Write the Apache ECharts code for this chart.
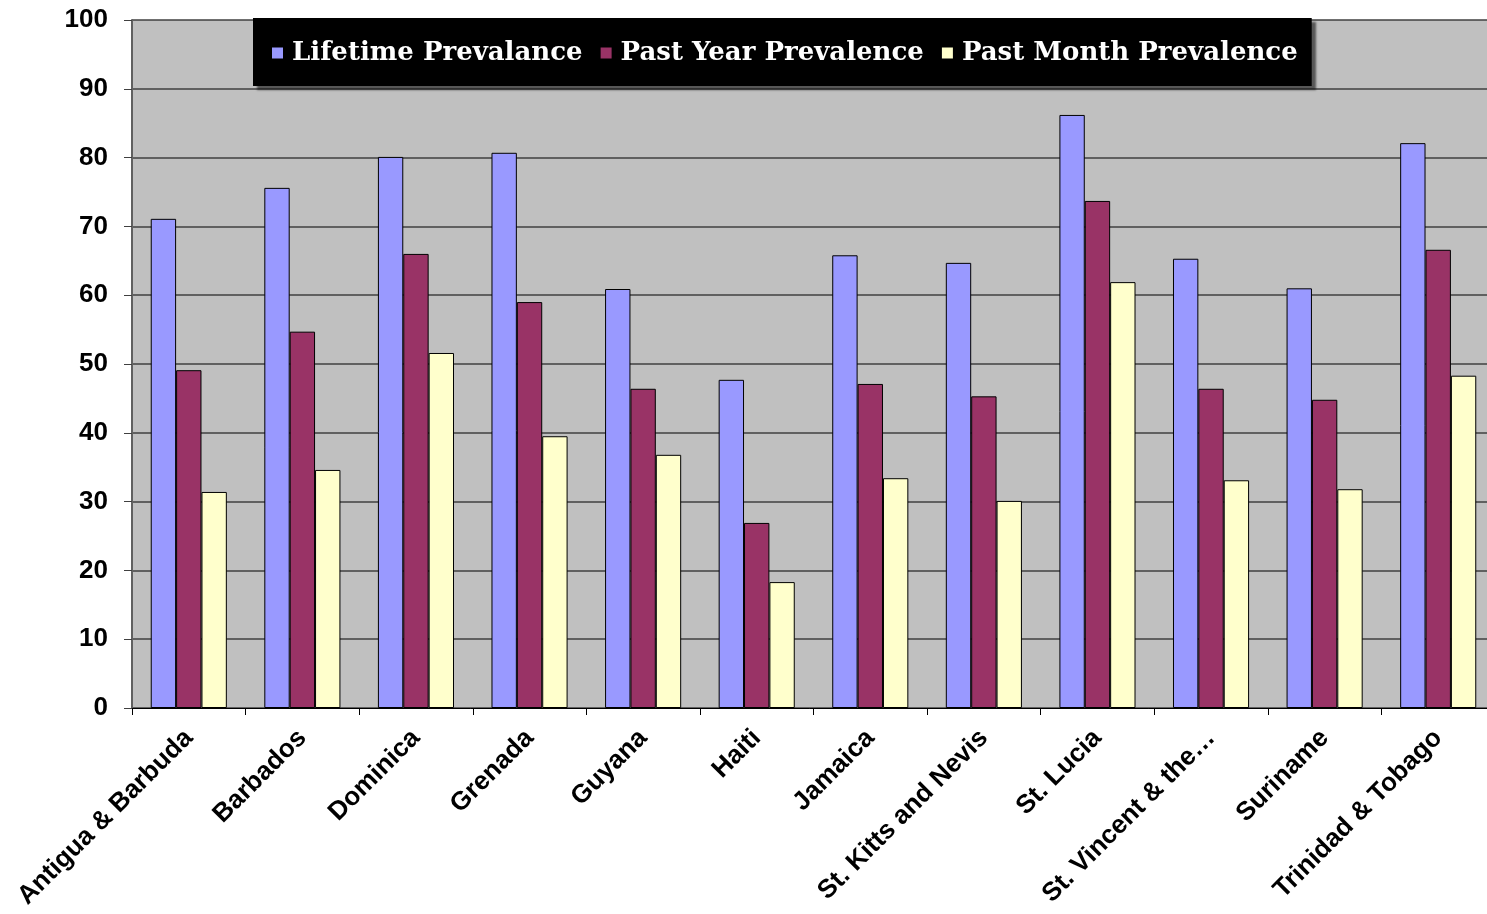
<!DOCTYPE html>
<html><head><meta charset="utf-8">
<script src="https://cdn.jsdelivr.net/npm/echarts@6/dist/echarts.min.js"></script>
<style>html,body{margin:0;padding:0;background:#fff;}#c{width:1487px;height:914px;}</style>
</head><body><div id="c"></div>
<script>
var categories = ["Antigua & Barbuda","Barbados","Dominica","Grenada","Guyana","Haiti","Jamaica","St. Kitts and Nevis","St. Lucia","St. Vincent & the…","Suriname","Trinidad & Tobago"];
var lifetime = [71.1,75.6,80.1,80.7,60.9,47.7,65.8,64.7,86.2,65.3,61.0,82.1];
var pastYear = [49.1,54.7,66.0,59.0,46.4,26.9,47.1,45.3,73.7,46.4,44.8,66.6];
var pastMonth = [31.4,34.6,51.6,39.5,36.8,18.3,33.4,30.1,61.9,33.1,31.8,48.3];
var seriesNames = ["Lifetime Prevalance","Past Year Prevalence","Past Month Prevalence"];
var yTicks = [0,10,20,30,40,50,60,70,80,90,100];

var chart = echarts.init(document.getElementById('c'));
function bar(name, data, color){
  return {name:name,type:'bar',data:data,barGap:'0%',barCategoryGap:'33%',
    itemStyle:{color:color,borderColor:'#000',borderWidth:1}};
}
chart.setOption({
  animation:false,
  backgroundColor:'#fff',
  grid:{left:132,top:20,width:1363,height:688,containLabel:false,outerBoundsMode:'none',
    show:true,backgroundColor:'#c0c0c0',borderWidth:0},
  legend:{left:253,top:18,padding:[22,14,20,17],itemGap:16,
    backgroundColor:'#000',shadowColor:'rgba(0,0,0,0.55)',shadowBlur:2,shadowOffsetX:4,shadowOffsetY:4,
    itemWidth:13,itemHeight:13,icon:'rect',
    textStyle:{color:'#fff',fontFamily:'DejaVu Serif',fontWeight:'bold',fontSize:26,padding:[0,0,0,3]},
    data:seriesNames},
  xAxis:{type:'category',data:categories,
    axisLine:{lineStyle:{color:'#000',width:1}},
    axisTick:{show:true,length:7,lineStyle:{color:'#000'},alignWithLabel:false},
    axisLabel:{rotate:45,interval:0,margin:26,color:'#000',fontFamily:'Liberation Sans',fontWeight:'bold',fontSize:26}},
  yAxis:{type:'value',min:0,max:100,interval:10,
    axisLine:{show:true,lineStyle:{color:'#606060',width:2}},
    axisTick:{show:true,length:8,lineStyle:{color:'#404040'}},
    splitLine:{lineStyle:{color:'#404040',width:1.5}},
    axisLabel:{margin:24,color:'#000',fontFamily:'Liberation Sans',fontWeight:'bold',fontSize:26,
      formatter:function(v){return yTicks.indexOf(v)>=0?String(v):'';}}},
  series:[bar(seriesNames[0],lifetime,'#9999ff'),bar(seriesNames[1],pastYear,'#993366'),bar(seriesNames[2],pastMonth,'#ffffcc')]
});
</script></body></html>
